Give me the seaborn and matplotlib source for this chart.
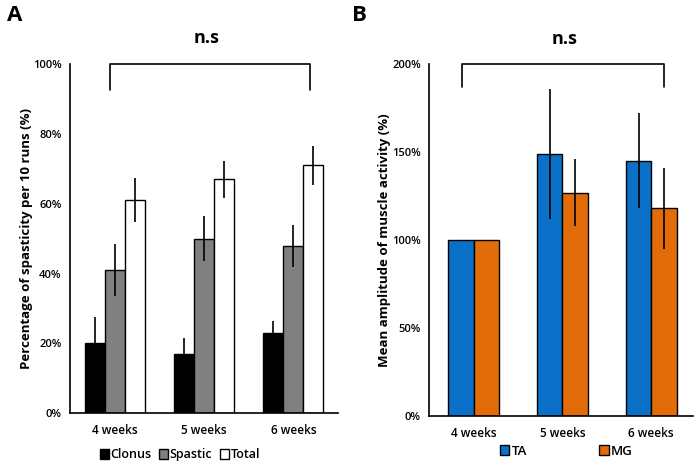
import numpy as np
import pandas as pd
import matplotlib
matplotlib.use("Agg")
import matplotlib.pyplot as plt
import seaborn as sns
from matplotlib.ticker import FuncFormatter

# Data
weeks = ["4 weeks", "5 weeks", "6 weeks"]

# Panel A - percentage of spasticity per 10 runs
clonus = [20, 17, 23]
clonus_err = [7.5, 4.5, 3.5]
spastic = [41, 50, 48]
spastic_err = [7.5, 6.5, 6]
total = [61, 67, 71]
total_err = [6.3, 5.3, 5.5]

# Panel B - mean amplitude of muscle activity
ta = [100, 149, 145]
ta_err = [0, 37, 27]
mg = [100, 127, 118]
mg_err = [0, 19, 23]

sns.set_theme(style="white")
plt.rcParams['font.family'] = ['Open Sans', 'DejaVu Sans']
plt.rcParams['text.color'] = 'black'
plt.rcParams['axes.labelcolor'] = 'black'
plt.rcParams['xtick.color'] = 'black'
plt.rcParams['ytick.color'] = 'black'

fig = plt.figure(figsize=(7, 4.68), dpi=100)
axA = fig.add_axes([0.1, 0.1175, 0.383, 0.745])
axB = fig.add_axes([0.613, 0.111, 0.377, 0.752])

dfA = pd.DataFrame({
    "week": weeks * 3,
    "group": ["Clonus"] * 3 + ["Spastic"] * 3 + ["Total"] * 3,
    "value": clonus + spastic + total,
})
errA = [clonus_err, spastic_err, total_err]
dfB = pd.DataFrame({
    "week": weeks * 2,
    "muscle": ["TA"] * 3 + ["MG"] * 3,
    "value": ta + mg,
})
errB = [ta_err, mg_err]


def add_errorbars(ax, errs):
    for cont, err in zip(ax.containers, errs):
        xs = [p.get_x() + p.get_width() / 2 for p in cont.patches]
        hs = [p.get_height() for p in cont.patches]
        for x, h, e in zip(xs, hs, err):
            if e > 0:
                ax.errorbar(x, h, yerr=e, fmt="none", ecolor="black",
                            elinewidth=1.2, capsize=0, zorder=5)


def style_axis(ax, ymax, step, ylabel, labelpad):
    ax.set_ylim(0, ymax)
    ax.set_yticks(np.arange(0, ymax + 1, step))
    ax.yaxis.set_major_formatter(FuncFormatter(lambda v, p: f"{int(v)}%"))
    ax.set_xlim(-0.5, 2.5)
    ax.set_xlabel("")
    ax.set_ylabel(ylabel, fontsize=9.5, fontweight="bold", labelpad=labelpad)
    for s in ["top", "right"]:
        ax.spines[s].set_visible(False)
    for s in ["left", "bottom"]:
        ax.spines[s].set_color("black")
        ax.spines[s].set_linewidth(1.2)
    ax.tick_params(axis="y", length=3, width=1, color="black", labelsize=8, pad=3)
    ax.tick_params(axis="x", length=0, labelsize=8.5, pad=8)
    for t in ax.get_xticklabels() + ax.get_yticklabels():
        t.set_fontweight("semibold")


# Panel A
sns.barplot(data=dfA, x="week", y="value", hue="group", ax=axA,
            palette=["black", "#808080", "white"], width=0.67,
            edgecolor="black", linewidth=1, errorbar=None, saturation=1)
add_errorbars(axA, errA)
style_axis(axA, 100, 20, "Percentage of spasticity per 10 runs (%)", 0)
axA.legend(loc="center", bbox_to_anchor=(0.41, -0.12), ncol=3, frameon=False,
           handlelength=0.7, handleheight=0.8, handletextpad=0.15,
           columnspacing=0.6, borderpad=0, prop={"weight": "semibold", "size": 9})
axA.plot([-0.05, -0.05, 2.18, 2.18], [92.5, 100, 100, 92.5], color="black",
         lw=1.2, clip_on=False)
axA.text(1.03, 105, "n.s", ha="center", va="bottom", fontsize=13,
         fontweight="bold")

# Panel B
sns.barplot(data=dfB, x="week", y="value", hue="muscle", ax=axB,
            palette=["#0A70C8", "#E36C0A"], width=0.57,
            edgecolor="black", linewidth=1, errorbar=None, saturation=1)
add_errorbars(axB, errB)
style_axis(axB, 200, 50, "Mean amplitude of muscle activity (%)", 1)
axB.set_xlim(-0.5, 2.47)
axB.legend(loc="center", bbox_to_anchor=(0.52, -0.10), ncol=2, frameon=False,
           handlelength=0.7, handleheight=0.8, handletextpad=0.15,
           columnspacing=5.5, borderpad=0, prop={"weight": "semibold", "size": 9.5})
axB.plot([-0.125, -0.125, 2.14, 2.14], [187, 200, 200, 187], color="black",
         lw=1.2, clip_on=False)
axB.text(1.03, 209, "n.s", ha="center", va="bottom", fontsize=13,
         fontweight="bold")

fig.text(0.01, 0.99, "A", fontsize=16, fontweight="bold", va="top")
fig.text(0.503, 0.99, "B", fontsize=16, fontweight="bold", va="top")

fig.savefig("out.png", dpi=100)
